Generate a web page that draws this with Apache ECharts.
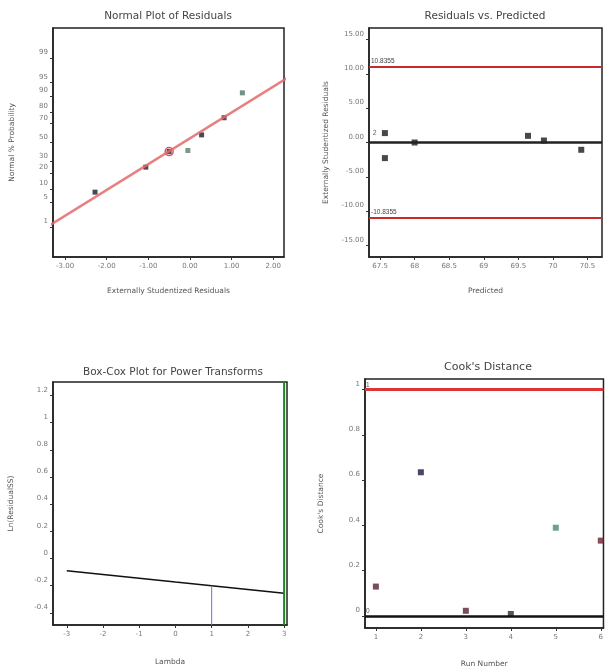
<!DOCTYPE html>
<html>
<head>
<meta charset="utf-8">
<script src="https://cdn.jsdelivr.net/npm/echarts@6/dist/echarts.min.js"></script>
<style>html,body{margin:0;background:#fff}#main{width:606px;height:669px}</style>
</head>
<body>
<div id="main"></div>
<script>
// normal plot of residuals
var normResid = [-2.28, -1.06, -0.5, -0.05, 0.28, 0.82, 1.26];
var normProb = [8.6, 24.9, 40.2, 41.3, 58.3, 75.2, 91.4];
var normColors = ['#1c1c2c', '#2a1a2a', '#2a1a2a', '#5e7e6e', '#1c1c2c', '#3a1a2a', '#52746a'];
var normHighlight = 2;
var fitResid = [-3.5, 2.5];
var fitProb = [0.89, 97.06];
var residTicks = [-3, -2, -1, 0, 1, 2];
var probTicks = [1, 5, 10, 20, 30, 50, 70, 80, 90, 95, 99];

// residuals vs predicted
var predicted = [67.57, 67.57, 68.0, 69.64, 69.87, 70.41];
var studResid = [1.37, -2.27, 0.0, 0.97, 0.29, -1.06];
var predPointLabels = ['2', '', '', '', '', ''];
var predLimits = [11.0, -10.9];
var predLimitLabels = ['10.8355', '-10.8355'];
var predTicks = [67.5, 68, 68.5, 69, 69.5, 70, 70.5];
var studTicks = [-15, -10, -5, 0, 5, 10, 15];

// box-cox
var lambdas = [-3, -2, -1, 0, 1, 2, 3];
var lnResidSS = [-0.09, -0.118, -0.145, -0.173, -0.2, -0.228, -0.256];
var currentLambda = 1;
var bestLambda = 3;
var lnTicks = [-0.4, -0.2, 0, 0.2, 0.4, 0.6, 0.8, 1, 1.2];

// cook's distance
var runs = [1, 2, 3, 4, 5, 6];
var cooks = [0.13, 0.635, 0.023, 0.009, 0.39, 0.333];
var cookColors = ['#5a2030', '#1a1a40', '#5a2030', '#2a2a2a', '#4a8a7a', '#6a2030'];
var cookLimits = [1, 0];
var cookTicks = [0, 0.2, 0.4, 0.6, 0.8, 1];

function probit(p) {
  p = p / 100;
  var a = [-3.969683028665376e+01, 2.209460984245205e+02, -2.759285104469687e+02, 1.383577518672690e+02, -3.066479806614716e+01, 2.506628277459239e+00];
  var b = [-5.447609879822406e+01, 1.615858368580409e+02, -1.556989798598866e+02, 6.680131188771972e+01, -1.328068155288572e+01];
  var c = [-7.784894002430293e-03, -3.223964580411365e-01, -2.400758277161838e+00, -2.549732539343734e+00, 4.374664141464968e+00, 2.938163982698783e+00];
  var d = [7.784695709041462e-03, 3.224671290700398e-01, 2.445134137142996e+00, 3.754408661907416e+00];
  var pl = 0.02425, q, r;
  if (p < pl) {
    q = Math.sqrt(-2 * Math.log(p));
    return (((((c[0]*q+c[1])*q+c[2])*q+c[3])*q+c[4])*q+c[5]) / ((((d[0]*q+d[1])*q+d[2])*q+d[3])*q+1);
  }
  if (p > 1 - pl) {
    q = Math.sqrt(-2 * Math.log(1 - p));
    return -(((((c[0]*q+c[1])*q+c[2])*q+c[3])*q+c[4])*q+c[5]) / ((((d[0]*q+d[1])*q+d[2])*q+d[3])*q+1);
  }
  q = p - 0.5; r = q * q;
  return (((((a[0]*r+a[1])*r+a[2])*r+a[3])*r+a[4])*r+a[5])*q / (((((b[0]*r+b[1])*r+b[2])*r+b[3])*r+b[4])*r+1);
}

var FONT = 'DejaVu Sans';
var lblStyle = { color: '#777', fontSize: 7, fontFamily: FONT };
var yLbl = Object.assign({ verticalAlign: 'bottom', padding: [0, 0, 2, 0], margin: 5 }, lblStyle);
var xLbl = Object.assign({ margin: 6 }, lblStyle);
var nameStyle = { color: '#555', fontSize: 7.5, fontFamily: FONT };
var tick = { length: 3, lineStyle: { color: '#333' } };
var axLine = { onZero: false, lineStyle: { color: '#222', width: 1.5 } };

function gridBox(o) {
  return Object.assign({ show: true, borderColor: '#222', borderWidth: 1.5, containLabel: false }, o);
}

var myChart = echarts.init(document.getElementById('main'));

var option = {
  animation: false,
  backgroundColor: '#fff',
  graphic: [
    { type: 'text', x: 168, y: 16, style: { text: 'Normal Plot of Residuals', textAlign: 'center', textVerticalAlign: 'middle', fontSize: 10.5, fill: '#444', fontFamily: FONT } },
    { type: 'text', x: 485, y: 16, style: { text: 'Residuals vs. Predicted', textAlign: 'center', textVerticalAlign: 'middle', fontSize: 10.5, fill: '#444', fontFamily: FONT } },
    { type: 'text', x: 173, y: 372, style: { text: 'Box-Cox Plot for Power Transforms', textAlign: 'center', textVerticalAlign: 'middle', fontSize: 10.5, fill: '#444', fontFamily: FONT } },
    { type: 'text', x: 488, y: 367, style: { text: "Cook's Distance", textAlign: 'center', textVerticalAlign: 'middle', fontSize: 11, fill: '#444', fontFamily: FONT } }
  ],
  grid: [
    gridBox({ left: 53, top: 28, width: 231, height: 229 }),
    gridBox({ left: 369, top: 28, width: 233, height: 229 }),
    gridBox({ left: 53, top: 382, width: 234, height: 243 }),
    gridBox({ left: 365, top: 379, width: 241, height: 251 })
  ],
  xAxis: [
    { gridIndex: 0, type: 'value', min: -3.29, max: 2.26, splitLine: { show: false }, axisLine: axLine,
      axisTick: Object.assign({ customValues: residTicks }, tick),
      axisLabel: Object.assign({ customValues: residTicks, formatter: function (v) { return v.toFixed(2); } }, xLbl),
      name: 'Externally Studentized Residuals', nameLocation: 'middle', nameGap: 30, nameTextStyle: nameStyle },
    { gridIndex: 1, type: 'value', min: 67.34, max: 70.71, splitLine: { show: false }, axisLine: axLine,
      axisTick: Object.assign({ customValues: predTicks }, tick),
      axisLabel: Object.assign({ customValues: predTicks }, xLbl),
      name: 'Predicted', nameLocation: 'middle', nameGap: 30, nameTextStyle: nameStyle },
    { gridIndex: 2, type: 'value', min: -3.38, max: 3.08, splitLine: { show: false }, axisLine: axLine,
      axisTick: Object.assign({ customValues: lambdas }, tick),
      axisLabel: Object.assign({ customValues: lambdas }, xLbl),
      name: 'Lambda', nameLocation: 'middle', nameGap: 33, nameTextStyle: nameStyle },
    { gridIndex: 3, type: 'value', min: 0.758, max: 6.06, splitLine: { show: false }, axisLine: axLine,
      axisTick: Object.assign({ customValues: runs }, tick),
      axisLabel: Object.assign({ customValues: runs }, xLbl),
      name: 'Run Number', nameLocation: 'middle', nameGap: 32, nameTextStyle: nameStyle }
  ],
  yAxis: [
    { gridIndex: 0, type: 'value', min: -3.15, max: 3.15, splitLine: { show: false }, axisLine: axLine,
      axisTick: Object.assign({ customValues: probTicks.map(probit) }, tick),
      axisLabel: Object.assign({ customValues: probTicks.map(probit), formatter: function (v) {
        for (var i = 0; i < probTicks.length; i++) { if (Math.abs(probit(probTicks[i]) - v) < 1e-6) return String(probTicks[i]); }
        return '';
      } }, yLbl),
      name: 'Normal % Probability', nameLocation: 'middle', nameGap: 37, nameTextStyle: nameStyle },
    { gridIndex: 1, type: 'value', min: -16.67, max: 16.67, splitLine: { show: false }, axisLine: axLine,
      axisTick: Object.assign({ customValues: studTicks }, tick),
      axisLabel: Object.assign({ customValues: studTicks, formatter: function (v) { return v.toFixed(2); } }, yLbl),
      name: 'Externally Studentized Residuals', nameLocation: 'middle', nameGap: 39, nameTextStyle: nameStyle },
    { gridIndex: 2, type: 'value', min: -0.49, max: 1.3, splitLine: { show: false }, axisLine: axLine,
      axisTick: Object.assign({ customValues: lnTicks }, tick),
      axisLabel: Object.assign({ customValues: lnTicks }, yLbl),
      name: 'Ln(ResidualSS)', nameLocation: 'middle', nameGap: 38, nameTextStyle: nameStyle },
    { gridIndex: 3, type: 'value', min: -0.053, max: 1.047, splitLine: { show: false }, axisLine: axLine,
      axisTick: Object.assign({ customValues: cookTicks }, tick),
      axisLabel: Object.assign({ customValues: cookTicks }, yLbl),
      name: "Cook's Distance", nameLocation: 'middle', nameGap: 40, nameTextStyle: nameStyle }
  ],
  series: [
    // normal plot
    { type: 'line', xAxisIndex: 0, yAxisIndex: 0, symbol: 'none', clip: true,
      data: fitResid.map(function (x, i) { return [x, probit(fitProb[i])]; }),
      lineStyle: { color: '#e36a6a', width: 2.5, opacity: 0.85 } },
    { type: 'scatter', xAxisIndex: 0, yAxisIndex: 0, symbol: 'rect', symbolSize: 5,
      data: normResid.map(function (x, i) { return { value: [x, probit(normProb[i])], itemStyle: { color: normColors[i] } }; }) },
    { type: 'scatter', xAxisIndex: 0, yAxisIndex: 0, symbol: 'circle', symbolSize: 8,
      data: [[normResid[normHighlight], probit(normProb[normHighlight])]],
      itemStyle: { color: 'rgba(0,0,0,0)', borderColor: '#c03040', borderWidth: 1.5 } },
    // residuals vs predicted
    { type: 'scatter', xAxisIndex: 1, yAxisIndex: 1, symbol: 'rect', symbolSize: 6,
      data: predicted.map(function (x, i) { return [x, studResid[i]]; }),
      itemStyle: { color: '#1a1a1a' },
      label: { show: true, position: 'left', distance: 5, fontSize: 7, color: '#444', fontFamily: FONT,
        formatter: function (p) { return predPointLabels[p.dataIndex]; } },
      markLine: { silent: true, symbol: 'none',
        data: [
          { yAxis: predLimits[0], lineStyle: { color: '#cc2a2a', width: 2, type: 'solid' },
            label: { show: true, position: 'insideStartTop', formatter: predLimitLabels[0], fontSize: 6.5, color: '#444', distance: 2 } },
          { yAxis: 0, lineStyle: { color: '#222', width: 2.5, type: 'solid' }, label: { show: false } },
          { yAxis: predLimits[1], lineStyle: { color: '#cc2a2a', width: 2, type: 'solid' },
            label: { show: true, position: 'insideStartTop', formatter: predLimitLabels[1], fontSize: 6.5, color: '#444', distance: 2 } }
        ] } },
    // box-cox
    { type: 'line', xAxisIndex: 2, yAxisIndex: 2, symbol: 'none',
      data: lambdas.map(function (x, i) { return [x, lnResidSS[i]]; }),
      lineStyle: { color: '#111', width: 1.5 } },
    { type: 'line', xAxisIndex: 2, yAxisIndex: 2, symbol: 'none',
      data: [[currentLambda, lnResidSS[lambdas.indexOf(currentLambda)]], [currentLambda, -0.49]],
      lineStyle: { color: '#7070e0', width: 1 } },
    { type: 'line', xAxisIndex: 2, yAxisIndex: 2, symbol: 'none',
      data: [[bestLambda, -0.49], [bestLambda, 1.3]],
      lineStyle: { color: '#1a8a1a', width: 2 } },
    // cook's distance
    { type: 'scatter', xAxisIndex: 3, yAxisIndex: 3, symbol: 'rect', symbolSize: 6, clip: false,
      data: runs.map(function (x, i) { return { value: [x, cooks[i]], itemStyle: { color: cookColors[i] } }; }),
      markLine: { silent: true, symbol: 'none',
        data: [
          { yAxis: cookLimits[0], lineStyle: { color: '#e03535', width: 3, type: 'solid' },
            label: { show: true, position: 'insideStartTop', formatter: '1', fontSize: 6.5, color: '#555', distance: 1 } },
          { yAxis: cookLimits[1], lineStyle: { color: '#111', width: 2.5, type: 'solid' },
            label: { show: true, position: 'insideStartTop', formatter: '0', fontSize: 6.5, color: '#555', distance: 1 } }
        ] } }
  ]
};

myChart.setOption(option);
</script>
</body>
</html>
